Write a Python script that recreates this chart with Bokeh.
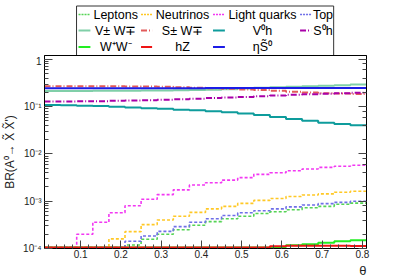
import numpy as np
from bokeh.plotting import figure
from bokeh.models import (Range1d, LogAxis, LogTicker, FixedTicker,
                          CustomJSTickFormatter, Title)
from bokeh.layouts import column
from bokeh.embed import file_html
from bokeh.resources import INLINE
from bokeh.core.properties import value

# ---------------- data ----------------
theta_edges = [0.01, 0.05, 0.09, 0.13, 0.17, 0.21, 0.25, 0.29, 0.33, 0.37, 0.41,
               0.45, 0.49, 0.53, 0.57, 0.61, 0.65, 0.69, 0.73, 0.77, 0.81]

leptons = [0, 0, 0, 0, 0, 1.19e-4, 1.57e-4, 2.0e-4, 2.5e-4, 3.1e-4, 3.7e-4, 4.25e-4,
           4.8e-4, 5.5e-4, 6.0e-4, 6.6e-4, 7.3e-4, 7.8e-4, 8.6e-4, 9.1e-4]
neutrinos = [0, 0, 0, 0, 1.6e-4, 2.27e-4, 3.2e-4, 4.0e-4, 4.8e-4, 5.8e-4, 6.9e-4, 7.8e-4,
             9.0e-4, 1.04e-3, 1.14e-3, 1.26e-3, 1.35e-3, 1.43e-3, 1.55e-3, 1.62e-3]
light_quarks = [0, 0, 2.0e-4, 3.6e-4, 5.7e-4, 8.0e-4, 1.1e-3, 1.38e-3, 1.74e-3, 2.2e-3,
                2.46e-3, 2.8e-3, 3.16e-3, 3.7e-3, 4.0e-3, 4.4e-3, 4.8e-3, 5.2e-3, 5.5e-3, 5.75e-3]
top = [0, 0, 0, 0, 0, 1.42e-4, 1.84e-4, 2.3e-4, 2.9e-4, 3.6e-4, 4.25e-4, 5.0e-4,
       5.7e-4, 6.3e-4, 6.9e-4, 7.6e-4, 8.3e-4, 8.9e-4, 9.45e-4, 1.0e-3]
vw = [0.214, 0.214, 0.215, 0.216, 0.217, 0.218, 0.219, 0.220, 0.222, 0.225, 0.229, 0.234,
      0.242, 0.250, 0.257, 0.263, 0.272, 0.278, 0.285, 0.295]
sw = [0.272, 0.272, 0.271, 0.270, 0.269, 0.268, 0.266, 0.263, 0.258, 0.252, 0.246, 0.240,
      0.232, 0.226, 0.217, 0.208, 0.199, 0.193, 0.189, 0.186]
v0h = [0.108, 0.107, 0.105, 0.103, 0.0996, 0.096, 0.093, 0.090, 0.086, 0.084, 0.080, 0.076,
       0.072, 0.0667, 0.0605, 0.055, 0.0507, 0.046, 0.0432, 0.0404]
s0h = [0.128, 0.129, 0.130, 0.131, 0.133, 0.135, 0.137, 0.140, 0.143, 0.148, 0.152, 0.156,
       0.161, 0.166, 0.172, 0.178, 0.183, 0.188, 0.193, 0.197]
ww = [0, 0, 0, 0, 0, 0, 0, 0, 0, 0, 0, 0, 0, 1.01e-4, 1.08e-4, 1.17e-4, 1.23e-4, 1.33e-4,
      1.42e-4, 1.49e-4]
hz = [0, 0, 0, 0, 0, 0, 0, 0, 0, 0, 0, 0, 0, 1.03e-4, 1.12e-4, 1.15e-4, 1.15e-4, 1.14e-4,
      1.14e-4, 1.13e-4]
eta_s0 = [0.245, 0.245, 0.245, 0.245, 0.245, 0.245, 0.245, 0.246, 0.246, 0.246, 0.247, 0.247,
          0.247, 0.247, 0.248, 0.248, 0.248, 0.248, 0.248, 0.248]

legend_labels = ["Leptons", "Neutrinos", "Light quarks", "Top",
                 "V\u00b1 W\u2213", "S\u00b1 W\u2213", "V\u2070h", "S\u2070h",
                 "W\u207aW\u207b", "hZ", "\u03b7S\u0303\u2070"]

x_ticks = [0.1, 0.2, 0.3, 0.4, 0.5, 0.6, 0.7, 0.8]
y_tick_exps = [-4, -3, -2, -1, 0]
y_tick_labels = ["10\u207b\u2074", "10\u207b\u00b3", "10\u207b\u00b2", "10\u207b\u00b9", "1"]

x_title = "\u03b8"
y_title = "BR(A\u2070\u2192 X\u0303 X\u0303')"

# ---------------- styles ----------------
series = [
    (leptons, "#55d455", "3 2", 1.6),
    (neutrinos, "#ffc825", "3 2", 1.6),
    (light_quarks, "#f238f2", "3 2", 1.6),
    (top, "#6f6fe8", "3 2", 1.6),
    (vw, "#80cfa8", "solid", 2),
    (sw, "#e25a5a", "6 2 1 2", 2),
    (v0h, "#0e9c9c", "solid", 2),
    (s0h, "#a800a8", "6 2 1 2", 2),
    (ww, "#22ee22", "solid", 2),
    (hz, "#ee1515", "solid", 2),
    (eta_s0, "#1c1ce6", "solid", 2),
]

FONT = "Liberation Sans"
YMIN, YMAX = 1e-4, 1.21
W = 407

# ---------------- main figure ----------------
p = figure(width=W, height=222, x_range=Range1d(0.01, 0.81),
           y_range=Range1d(YMIN, YMAX), y_axis_type="log",
           output_backend="svg", toolbar_location=None,
           min_border_left=40, min_border_right=41, min_border_top=0,
           min_border_bottom=26)
p.xgrid.visible = False
p.ygrid.visible = False
p.outline_line_color = "black"
p.background_fill_color = "white"
p.border_fill_color = "white"

edges = np.array(theta_edges)
for vals, color, dash, lw in series:
    v = np.maximum(np.array(vals, dtype=float), YMIN * 1.05)
    yv = np.append(v, v[-1])
    p.step(x=edges, y=yv, mode="after", line_color=color, line_width=lw,
           line_dash=dash)

x_minor = list(np.round(np.arange(0.02, 0.81, 0.02), 2))
p.xaxis.ticker = FixedTicker(ticks=x_ticks, minor_ticks=x_minor)
for ax in (p.xaxis, p.yaxis):
    ax.major_tick_in = 8
    ax.major_tick_out = 0
    ax.minor_tick_in = 4
    ax.minor_tick_out = 0
    ax.axis_line_color = "black"
    ax.major_tick_line_color = "#444444"
    ax.minor_tick_line_color = "#444444"
    ax.major_label_text_font = FONT
    ax.major_label_text_font_size = "10px"
    ax.major_label_text_color = "#222222"
p.xaxis.major_label_standoff = 1
p.yaxis.major_label_standoff = 3
p.yaxis.formatter = CustomJSTickFormatter(
    args=dict(exps=y_tick_exps, labels=y_tick_labels),
    code="""
const e = Math.round(Math.log10(tick));
const i = exps.indexOf(e);
return i >= 0 ? labels[i] : "";
""")
p.yaxis.axis_label = y_title
p.yaxis.axis_label_standoff = 3
p.yaxis.axis_label_text_font = FONT
p.yaxis.axis_label_text_font_style = "normal"
p.yaxis.axis_label_text_font_size = "12px"
p.yaxis.axis_label_text_color = "#222222"

ra = LogAxis(ticker=LogTicker())
ra.major_tick_in = 8
ra.major_tick_out = 0
ra.minor_tick_in = 4
ra.minor_tick_out = 0
ra.major_tick_line_color = "#444444"
ra.minor_tick_line_color = "#444444"
ra.axis_line_color = "black"
ra.formatter = CustomJSTickFormatter(code='return "";')
ra.major_label_text_font_size = "0px"
p.add_layout(ra, "right")

# x title at the right end, under the tick labels
p.add_layout(Title(text=x_title, align="right", text_font=FONT,
                   text_font_style="normal", text_font_size="13px",
                   text_color="#222222", standoff=0, offset=0), "below")

# ---------------- legend figure (above) ----------------
lf = figure(width=W, height=55, x_range=Range1d(0, W), y_range=Range1d(55, 0),
            output_backend="svg", toolbar_location=None,
            x_axis_location=None, y_axis_location=None, min_border=0)
lf.xgrid.visible = False
lf.ygrid.visible = False
lf.outline_line_color = None
lf.multi_line(xs=[[40.5, 40.5, 365.5, 365.5]], ys=[[55, 5.5, 5.5, 55]],
              line_color="#333333", line_width=1)

sym_x0 = [43, 122, 213, 323]
sym_x1 = [58, 136, 228, 337]
txt_cx = [90, 174.5, 275.5, 352]
row_y = [14, 30, 46.5]
for k, (lab, (vals, color, dash, lw)) in enumerate(zip(legend_labels, series)):
    r, c = divmod(k, 4)
    lf.line(x=[sym_x0[c], sym_x1[c]], y=[row_y[r], row_y[r]], line_color=color,
            line_width=lw, line_dash=("2 1" if dash == "3 2" else dash))
    lf.text(x=[txt_cx[c]], y=[row_y[r]], text=[lab], text_align="center",
            text_baseline="middle", text_font=value(FONT), text_font_size="12.5px",
            text_color="black")

layout = column(lf, p, spacing=0)
open("out.html", "w").write(file_html(layout, INLINE))
